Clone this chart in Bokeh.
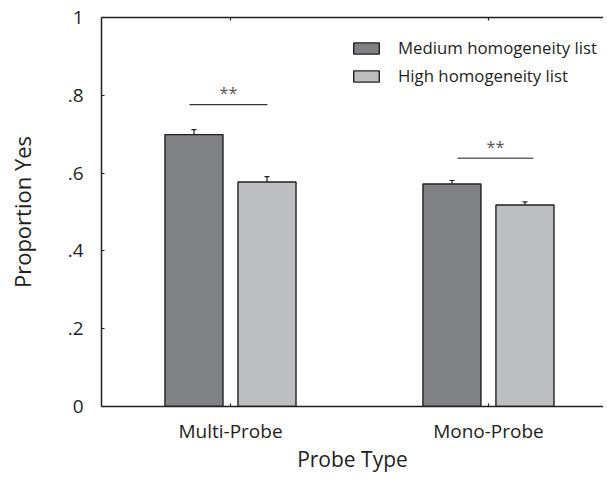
import numpy as np
from bokeh.plotting import figure
from bokeh.models import (ColumnDataSource, Range1d, FixedTicker, LinearAxis,
                          Whisker, TeeHead, Legend, LegendItem)
from bokeh.embed import file_html
from bokeh.resources import INLINE
from bokeh.core.properties import value

# ---------------- data ----------------
categories = ["Multi-Probe", "Mono-Probe"]
series_names = ["Medium homogeneity list", "High homogeneity list"]
medium_values = [0.699, 0.572]
high_values = [0.577, 0.518]
medium_errors = [0.013, 0.009]
high_errors = [0.014, 0.008]
y_ticks = [0, 0.2, 0.4, 0.6, 0.8, 1.0]
y_tick_labels = ["0", ".2", ".4", ".6", ".8", "1"]
sig_labels = ["**", "**"]
sig_left = [0.341, 1.380]
sig_right = [0.643, 1.674]
sig_level = [0.776, 0.638]
x_title = "Probe Type"
y_title = "Proportion Yes"

# ---------------- style ----------------
FONT = "Open Sans"
INK = "#231f20"
MED_COLOR = "#808184"
HIGH_COLOR = "#bcbec0"
offset = 0.1415
bar_w = 0.225

cat_pos = np.arange(len(categories)) + 0.5

p = figure(width=603, height=475, x_range=Range1d(0, 1.946), y_range=Range1d(0, 1),
           output_backend="svg", toolbar_location=None,
           min_border_left=101, min_border_right=0, min_border_top=17, min_border_bottom=69)
p.xgrid.visible = False
p.ygrid.visible = False
p.outline_line_color = None
p.background_fill_color = "white"
p.border_fill_color = "white"

med_src = ColumnDataSource(dict(x=cat_pos - offset, top=medium_values,
                                upper=np.array(medium_values) + np.array(medium_errors),
                                lower=np.array(medium_values) - np.array(medium_errors)))
high_src = ColumnDataSource(dict(x=cat_pos + offset, top=high_values,
                                 upper=np.array(high_values) + np.array(high_errors),
                                 lower=np.array(high_values) - np.array(high_errors)))

r_med = p.vbar(x="x", top="top", width=bar_w, bottom=0, source=med_src,
               fill_color=MED_COLOR, line_color=INK, line_width=1.4)
r_high = p.vbar(x="x", top="top", width=bar_w, bottom=0, source=high_src,
                fill_color=HIGH_COLOR, line_color=INK, line_width=1.4)

for src in (med_src, high_src):
    w = Whisker(base="x", upper="upper", lower="lower", source=src,
                line_color=INK, line_width=1.2,
                upper_head=TeeHead(size=5, line_color=INK, line_width=1.2),
                lower_head=TeeHead(size=5, line_color=INK, line_width=1.2))
    p.add_layout(w)

# significance markers
p.segment(x0=sig_left, y0=sig_level, x1=sig_right, y1=sig_level,
          line_color=["#333333", "#666666"], line_width=1.4)
star_x = (np.array(sig_left) + np.array(sig_right)) / 2
p.text(x=star_x, y=np.array(sig_level) + 0.029, text=sig_labels,
       text_align="center", text_baseline="middle",
       text_font=value(FONT), text_font_size="16px", text_color="#555555")

# axes
xt = FixedTicker(ticks=list(cat_pos))
p.xaxis.ticker = xt
p.xaxis.major_label_overrides = {float(c): lab for c, lab in zip(cat_pos, categories)}
p.xaxis.axis_label = x_title
p.yaxis.ticker = FixedTicker(ticks=y_ticks)
p.yaxis.major_label_overrides = {float(t): lab for t, lab in zip(y_ticks, y_tick_labels)}
p.yaxis.axis_label = y_title

for ax in (p.xaxis[0], p.yaxis[0]):
    ax.axis_line_color = INK
    ax.axis_line_width = 1.5
    ax.major_tick_line_color = INK
    ax.major_tick_line_width = 1.2
    ax.major_tick_in = 3
    ax.major_tick_out = 0
    ax.minor_tick_line_color = None
    ax.major_label_text_font = FONT
    ax.major_label_text_font_size = "19px"
    ax.major_label_text_color = INK
    ax.axis_label_text_font = FONT
    ax.axis_label_text_font_style = "normal"
    ax.axis_label_text_color = INK

p.xaxis.axis_label_text_font_size = "21px"
p.yaxis.axis_label_text_font_size = "22px"
p.xaxis.major_label_standoff = 11
p.xaxis.axis_label_standoff = -2
p.yaxis.major_label_standoff = 18
p.yaxis.axis_label_standoff = 28

top_axis = LinearAxis(ticker=xt, axis_line_color=INK, axis_line_width=1.5,
                      major_tick_line_color=INK, major_tick_line_width=1.2,
                      major_tick_in=3, major_tick_out=0, minor_tick_line_color=None,
                      major_label_overrides={float(c): "" for c in cat_pos},
                      major_label_text_font_size="8px", major_label_standoff=0)
p.add_layout(top_axis, "above")

legend = Legend(items=[LegendItem(label=series_names[0], renderers=[r_med]),
                       LegendItem(label=series_names[1], renderers=[r_high])],
                location=(249, 319), orientation="vertical",
                glyph_width=32, glyph_height=14, label_height=14, spacing=5,
                padding=0, margin=0, label_standoff=16,
                border_line_color=None, background_fill_alpha=0,
                label_text_font=FONT, label_text_font_size="16.8px", label_text_color=INK)
p.add_layout(legend)

open("out.html", "w").write(file_html(p, INLINE))
